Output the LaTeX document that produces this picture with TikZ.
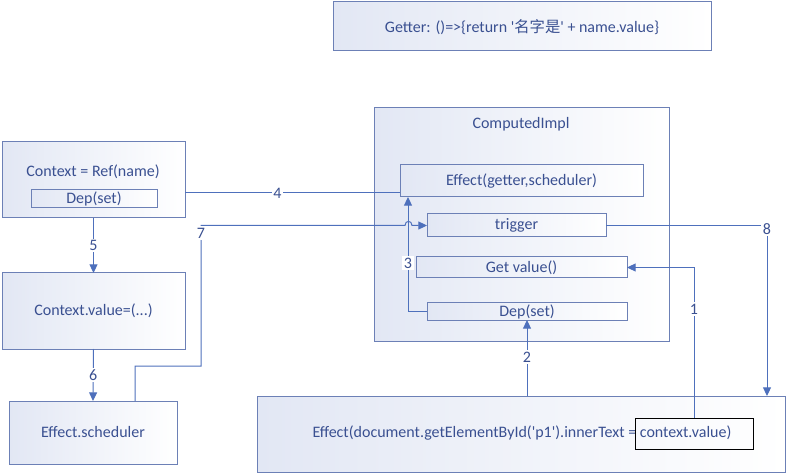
\documentclass[tikz,border=0pt]{standalone}
\usepackage{fontspec}
\setmainfont{Carlito}
\newfontfamily\cjk{Noto Sans CJK SC}
\usetikzlibrary{arrows.meta,calc}
\definecolor{txt}{RGB}{58,80,145}
\definecolor{ln}{RGB}{78,112,188}
\definecolor{bd}{RGB}{108,128,182}
\definecolor{bfill}{RGB}{226,231,244}
\newcommand\mkbox[6][]{%
  \node[box,#1,minimum width={(#4-#2)*0.75pt},minimum height={(#5-#3)*0.75pt}] (#6) at ({(#2+#4)/2},{(#3+#5)/2}) {};}
\begin{document}
\begin{tikzpicture}[x=0.75pt,y=-0.75pt,
  box/.style={draw=bd,line width=0.75pt,left color=bfill,right color=white,inner sep=0pt,outer sep=0pt},
  lbl/.style={text=txt,font=\fontsize{12}{14}\selectfont,inner sep=0pt},
  conn/.style={draw=ln,line width=0.75pt},
  arr/.style={conn,-{Triangle[length=6.5pt,width=6pt]}},
  num/.style={fill=white,text=txt,inner sep=1.2pt,font=\fontsize{12}{14}\selectfont}]
\useasboundingbox (0,0) rectangle (787,473);

% Getter
\mkbox{333}{2}{711}{51}{getter}
\node[lbl] (gettxt) at (522,27) {Getter: ()=>\{return \textquotesingle{\cjk\fontsize{11.5}{14}\selectfont 名字是}\textquotesingle{} + name.value\}};

% left column
\mkbox{2}{142}{185}{218}{ctx}
\node[lbl] (ctxtxt) at (93,172) {Context = Ref(name)};
\mkbox{31}{190}{157}{208}{dep1}
\node[lbl] (dep1txt) at (dep1) {Dep(set)};
\mkbox{2}{273}{185}{349}{cval}
\node[lbl] (cvaltxt) at (cval) {Context.value=(...)};
\mkbox{9}{401}{177}{464}{sched}
\node[lbl] (schedtxt) at (sched) {Effect.scheduler};

% ComputedImpl
\mkbox{374}{108}{669}{341}{comp}
\node[lbl] (comptxt) at (521,124) {ComputedImpl};
\mkbox{400}{165}{643}{197}{eff}
\node[lbl] (efftxt) at (eff) {Effect(getter,scheduler)};
\mkbox{427}{214}{606}{237}{trig}
\node[lbl] (trigtxt) at (trig) {trigger};
\mkbox{416}{257}{627}{278}{getv}
\node[lbl] (getvtxt) at (getv) {Get value()};
\mkbox{427}{303}{627}{320}{dep2}
\node[lbl] (dep2txt) at (dep2) {Dep(set)};

% bottom effect
\mkbox{257}{396}{785}{472}{bot}
\node[lbl] (bottxt) at (522,433) {Effect(document.getElementById(\textquotesingle p1\textquotesingle).innerText = context.value)};
\node[draw=black,line width=0.75pt,minimum width={118*0.75pt},minimum height={31*0.75pt},inner sep=0pt] (blk) at (694,433.5) {};

% connectors
\draw[conn] (ctx.east |- 0,193) -- (eff.west |- 0,193) node[num,pos=0.43] {4};
\draw[arr] (ctx.south) -- (cval.north) node[num,midway] {5};
\draw[arr] (cval.south) -- (sched.north) node[num,midway] {6};
\draw[arr] (sched.north -| 135,0) -- (135,366) -- (201,366) -- (201,225.5) -- (405,225.5)
   .. controls (405,220) and (412,220) .. (412,225.5) -- (trig.west);
\node[num] (n7) at (201,233) {7};
\draw[arr] (dep2.west) -- (408,311.5) -- (eff.south -| 408,0);
\node[num] (n3) at (408,263) {3};
\draw[arr] (trig.east) -- (767,225.5) -- (bot.north -| 767,0);
\node[num] (n8) at (767,229) {8};
\draw[arr] (blk.north) -- (694,267.5) -- (getv.east);
\node[num] (n1) at (694,309) {1};
\draw[arr] (bot.north -| dep2.south) -- (dep2.south);
\node[num] (n2) at (527,357) {2};
\end{tikzpicture}
\end{document}
